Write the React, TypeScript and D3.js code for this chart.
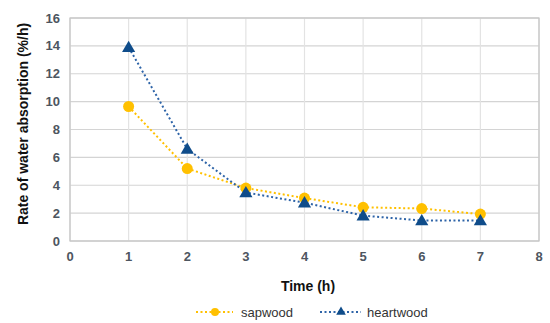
import React from 'react';
import * as d3 from 'd3';

const hours = [1, 2, 3, 4, 5, 6, 7];
const sapwood = [9.65, 5.2, 3.8, 3.08, 2.42, 2.33, 1.93];
const heartwood = [13.9, 6.6, 3.48, 2.75, 1.82, 1.47, 1.47];
const xTicks = [0, 1, 2, 3, 4, 5, 6, 7, 8];
const yTicks = [0, 2, 4, 6, 8, 10, 12, 14, 16];

const W = 550;
const H = 323;
const m = { left: 70, right: 11, top: 18, bottom: 82 };

const sapColor = '#ffc000';
const heartColor = '#2e64a8';
const heartMarker = '#0f4c8a';
const font = 'Liberation Sans, Arial, sans-serif';

export default function App() {
  const x = d3.scaleLinear().domain([0, 8]).range([m.left, W - m.right]);
  const y = d3.scaleLinear().domain([0, 16]).range([H - m.bottom, m.top]);

  const line = d3
    .line<number>()
    .x((_, i) => x(hours[i]))
    .y((d) => y(d));

  const tri = d3.symbol().type(d3.symbolTriangle).size(75);
  const triSmall = d3.symbol().type(d3.symbolTriangle).size(40);

  return (
    <svg
      width={W}
      height={H}
      style={{ position: 'absolute', left: 0, top: 0, fontFamily: font }}
    >
      <rect width={W} height={H} fill="#fff" />
      {/* grid */}
      {yTicks.map((t) => (
        <line
          key={'gy' + t}
          x1={x(0)}
          x2={x(8)}
          y1={y(t)}
          y2={y(t)}
          stroke="#d4d4d4"
          strokeWidth={1.2}
        />
      ))}
      {xTicks.map((t) => (
        <line
          key={'gx' + t}
          x1={x(t)}
          x2={x(t)}
          y1={y(0)}
          y2={y(16)}
          stroke="#e3e3e3"
          strokeWidth={1.2}
        />
      ))}
      <rect
        x={x(0)}
        y={y(16)}
        width={x(8) - x(0)}
        height={y(0) - y(16)}
        fill="none"
        stroke="#c4c4c4"
        strokeWidth={1.2}
      />
      {/* tick labels */}
      {yTicks.map((t) => (
        <text
          key={'ty' + t}
          x={x(0) - 10}
          y={y(t)}
          dy="0.35em"
          textAnchor="end"
          fontSize={13}
          fontWeight="bold"
          fill="#4d5560"
        >
          {t}
        </text>
      ))}
      {xTicks.map((t) => (
        <text
          key={'tx' + t}
          x={x(t)}
          y={y(0) + 20}
          textAnchor="middle"
          fontSize={13}
          fontWeight="bold"
          fill="#4d5560"
        >
          {t}
        </text>
      ))}
      {/* axis titles */}
      <text
        x={308}
        y={291}
        textAnchor="middle"
        fontSize={14}
        fontWeight="bold"
        fill="#111"
      >
        Time (h)
      </text>
      <text
        transform={`translate(28,124) rotate(-90)`}
        textAnchor="middle"
        fontSize={14}
        fontWeight="bold"
        fill="#111"
      >
        Rate of water absorption  (%/h)
      </text>
      {/* series */}
      <path
        d={line(sapwood) || ''}
        fill="none"
        stroke={sapColor}
        strokeWidth={2}
        strokeDasharray="2 2.5"
      />
      <path
        d={line(heartwood) || ''}
        fill="none"
        stroke={heartColor}
        strokeWidth={2}
        strokeDasharray="2 2.5"
      />
      {sapwood.map((v, i) => (
        <circle key={'s' + i} cx={x(hours[i])} cy={y(v)} r={5.5} fill={sapColor} />
      ))}
      {heartwood.map((v, i) => (
        <path
          key={'h' + i}
          d={tri() || ''}
          transform={`translate(${x(hours[i])},${y(v) + 1})`}
          fill={heartMarker}
        />
      ))}
      {/* legend */}
      <g transform="translate(196,312)">
        <line x1={0} x2={37} y1={0} y2={0} stroke={sapColor} strokeWidth={2} strokeDasharray="2 2.5" />
        <circle cx={19} cy={0} r={4} fill={sapColor} />
        <text x={45} y={0} dy="0.35em" fontSize={13} fill="#333">
          sapwood
        </text>
      </g>
      <g transform="translate(320,312)">
        <line x1={0} x2={41} y1={0} y2={0} stroke={heartColor} strokeWidth={2} strokeDasharray="2 2.5" />
        <path d={triSmall() || ''} transform="translate(21,0)" fill={heartMarker} />
        <text x={47} y={0} dy="0.35em" fontSize={13} fill="#333">
          heartwood
        </text>
      </g>
    </svg>
  );
}
